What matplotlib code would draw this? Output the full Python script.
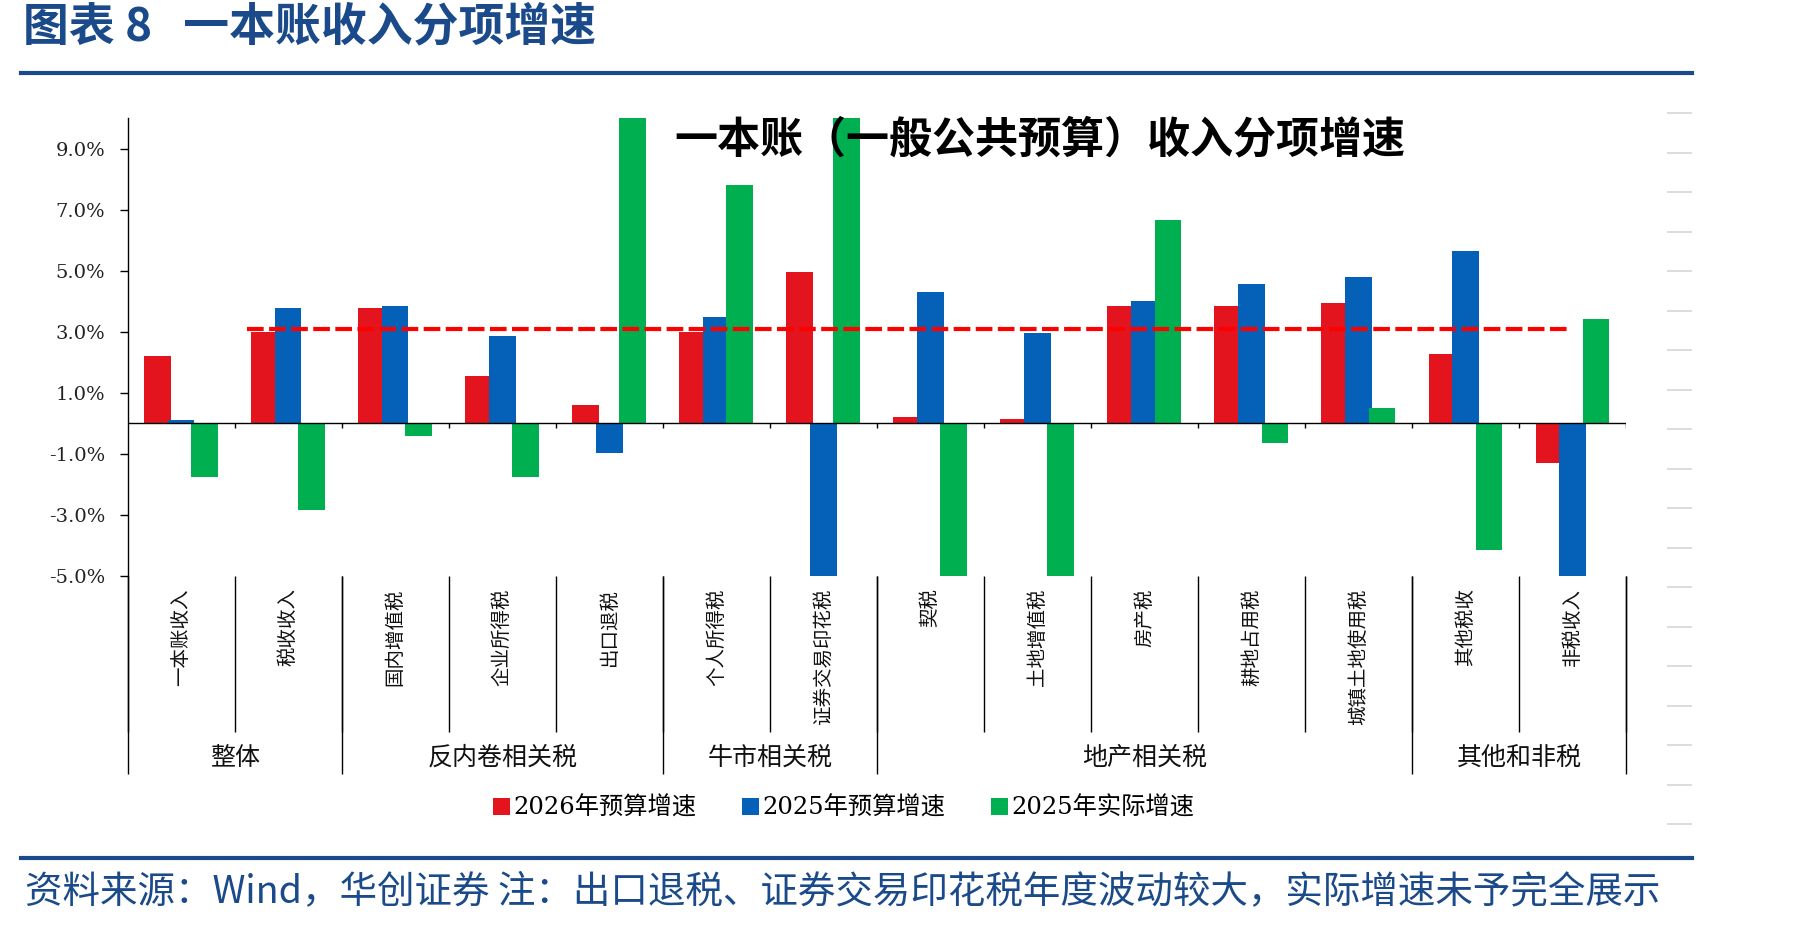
import matplotlib
matplotlib.use('Agg')
import matplotlib.pyplot as plt
from matplotlib.lines import Line2D
import numpy as np

plt.rcParams['font.family'] = ['DejaVu Serif', 'Noto Sans CJK SC', 'DejaVu Sans']

# 数据（单位：%），超出坐标范围的柱子按估计值，图中被截断
categories = ['一本账收入', '税收收入', '国内增值税', '企业所得税', '出口退税',
              '个人所得税', '证券交易印花税', '契税', '土地增值税', '房产税',
              '耕地占用税', '城镇土地使用税', '其他税收', '非税收入']
groups = ['整体', '反内卷相关税', '牛市相关税', '地产相关税', '其他和非税']
group_sizes = [2, 3, 2, 5, 2]

budget_2026 = [2.19, 3.0, 3.78, 1.55, 0.59, 3.0, 4.96, 0.19, 0.14, 3.84, 3.84, 3.93, 2.26, -1.31]
budget_2025 = [0.11, 3.78, 3.85, 2.85, -0.99, 3.49, -5.5, 4.31, 2.95, 3.99, 4.57, 4.78, 5.64, -5.5]
actual_2025 = [-1.77, -2.85, -0.42, -1.77, 12.0, 7.80, 12.0, -6.0, -6.0, 6.65, -0.66, 0.50, -4.16, 3.41]
series_names = ['2026年预算增速', '2025年预算增速', '2025年实际增速']

ref_level = 3.1          # 红色虚线
ref_span = [0.62, 13.0]  # 虚线起止（类别坐标）

yticks = [-5, -3, -1, 1, 3, 5, 7, 9]

c_red = '#E3141E'
c_blue = '#0561B8'
c_green = '#00B050'
c_navy = '#1A4A8A'
cjk = ['Noto Sans CJK SC', 'DejaVu Sans']

fig = plt.figure(figsize=(18.01, 9.26), dpi=100)
W, H = 1801, 926

# 主坐标区
ax = fig.add_axes([127.5 / W, 1 - 575.7 / H, (1626 - 127.5) / W, (575.7 - 118) / H])
x = np.arange(len(categories))
bw = 0.25
off = 0.22
ax.bar(x - off, budget_2026, bw, color=c_red, label=series_names[0], zorder=2)
ax.bar(x, budget_2025, bw, color=c_blue, label=series_names[1], zorder=3)
ax.bar(x + off, actual_2025, bw, color=c_green, label=series_names[2], zorder=4)

ax.plot(ref_span, [ref_level, ref_level], color='#FF0000', lw=3.0,
        linestyle=(0, (4.0, 1.3)), zorder=5)

ax.set_xlim(-0.5, len(categories) - 0.5)
ax.set_ylim(-5, 10)
ax.set_yticks(yticks)
ax.set_yticklabels([f'{v:.1f}%' for v in yticks])
ax.tick_params(axis='y', length=6, width=1, direction='out', pad=10,
               labelsize=14, labelcolor='#222222')
ax.set_xticks([])
for s in ['top', 'right', 'bottom']:
    ax.spines[s].set_visible(False)
ax.spines['left'].set_linewidth(1)

# 零轴及刻度
ax.axhline(0, color='black', lw=1, zorder=6)
edges = np.arange(len(categories) + 1) - 0.5
ax.vlines(edges[1:], 0, -0.17, color='black', lw=1, zorder=6)

# 多级分类标签
y_cat_end = -10.13
y_grp_end = -11.49
group_edges = np.concatenate([[0], np.cumsum(group_sizes)]) - 0.5
ax.vlines(edges, -5, y_cat_end, color='black', lw=1, clip_on=False)
ax.vlines(group_edges, -5, y_grp_end, color='black', lw=1, clip_on=False)

for i, name in enumerate(categories):
    ax.text(i, -5.41, name, rotation=90, ha='center', va='top', fontsize=14,
            family=cjk, color='#111111', clip_on=False)
for g, name in enumerate(groups):
    cx = (group_edges[g] + group_edges[g + 1]) / 2
    ax.text(cx, -10.96, name, ha='center', va='center', fontsize=18,
            family=cjk, color='#111111', clip_on=False)

ax.text(0.609, 0.953, '一本账（一般公共预算）收入分项增速', transform=ax.transAxes,
        ha='center', va='center', fontsize=31, fontweight='bold', family=cjk,
        color='black', zorder=10)

leg = ax.legend(loc='center', bbox_to_anchor=(0.4684, 1 - 808 / H),
                bbox_transform=fig.transFigure, ncol=3, frameon=False,
                handlelength=0.7, handleheight=0.7, handletextpad=0.15,
                columnspacing=1.87, prop={'size': 17.5})

# 右侧浅灰刻度
ax_r = fig.add_axes([1667 / W, 1 - 824 / H, 25 / W, (824 - 113) / H])
ax_r.set_xlim(0, 1)
ax_r.set_ylim(0, 18)
ax_r.hlines(np.arange(19), 0, 1, color='#D9D9D9', lw=1.3, clip_on=False)
ax_r.axis('off')

# 标题、横线、来源
fig.text(23 / W, 1 - 27 / H, '图表 8   一本账收入分项增速', ha='left', va='center',
         fontsize=33, fontweight='bold', family=cjk, color=c_navy)
fig.add_artist(Line2D([21 / W, 1692 / W], [1 - 73 / H] * 2, color=c_navy, lw=3))
fig.add_artist(Line2D([21 / W, 1692 / W], [1 - 858 / H] * 2, color=c_navy, lw=3))
fig.text(25 / W, 1 - 892 / H,
         '资料来源：Wind，华创证券 注：出口退税、证券交易印花税年度波动较大，实际增速未予完全展示',
         ha='left', va='center', fontsize=27, family=cjk, color=c_navy)

fig.savefig('out.png', dpi=100)
